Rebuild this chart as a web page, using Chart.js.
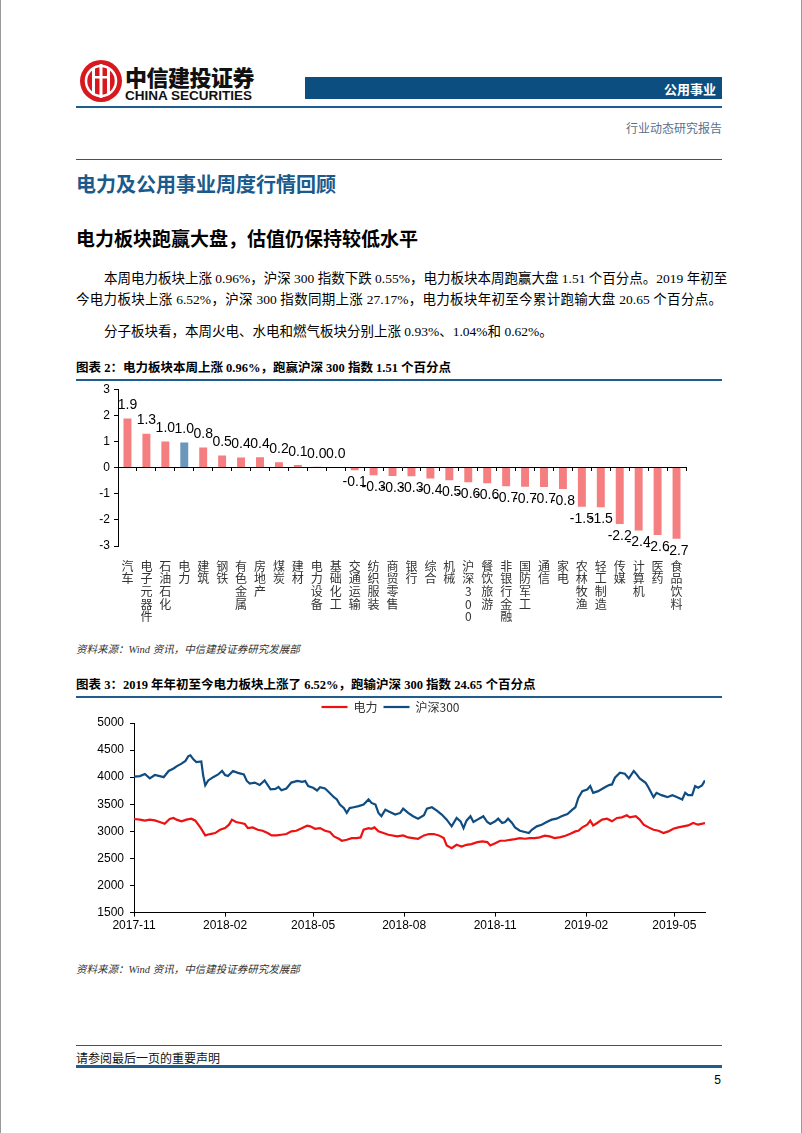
<!DOCTYPE html>
<html>
<head>
<meta charset="utf-8">
<script src="https://cdn.jsdelivr.net/npm/chart.js@4.4.1/dist/chart.umd.min.js"></script>
<style>
body { margin: 0; background: #fff; }
#page { position: relative; width: 802px; height: 1133px; overflow: hidden; background: #fff;
        font-family: "Liberation Serif", "Noto Sans CJK SC", serif; color: #000; }
.abs { position: absolute; }
.blue-bar { left: 305px; top: 77px; width: 417px; height: 22px; background: #0c4e80; }
.chart-title { left: 76px; width: 646px; font-family: "Liberation Serif", "Noto Sans CJK SC", serif;
               font-weight: bold; font-size: 12.5px; border-bottom: 2px solid #1f5c8f; padding-bottom: 3px; }
.source { left: 76px; font-style: italic; font-size: 10.5px; color: #333; }
.para { left: 76px; width: 646px; font-size: 13.5px; text-align: justify; text-align-last: justify; white-space: nowrap; }
</style>
</head>
<body>
<div id="page">
  <div class="abs" style="left:0;top:0;width:1px;height:1133px;background:#999"></div>
  <div class="abs" style="left:801px;top:0;width:1px;height:1133px;background:#999"></div>

  <!-- 页眉 -->
  <svg class="abs" style="left:79px;top:59px" width="44" height="44" viewBox="0 0 44 44">
    <circle cx="22" cy="22" r="21" fill="#d7191f"/>
    <circle cx="22" cy="22" r="15" fill="none" stroke="#fff" stroke-width="2.5"/>
    <rect x="13" y="9" width="3" height="26" fill="#fff"/>
    <rect x="20.5" y="5" width="3" height="34" fill="#fff"/>
    <rect x="28" y="9" width="3" height="26" fill="#fff"/>
    <rect x="13" y="17" width="18" height="2.5" fill="#fff"/>
  </svg>
  <div class="abs" style="left:125px;top:65px;line-height:1;font-family:'Noto Sans CJK SC';font-weight:900;font-size:22px;letter-spacing:-0.5px;color:#111">中信建投证券</div>
  <div class="abs" style="left:125px;top:89px;line-height:1;font-family:'Liberation Sans Narrow','Liberation Sans';font-weight:bold;font-size:13.5px;color:#111">CHINA SECURITIES</div>
  <div class="abs blue-bar"></div>
  <div class="abs" style="left:600px;top:79px;width:116px;text-align:right;font-family:'Noto Sans CJK SC';font-weight:bold;font-size:13px;color:#fff">公用事业</div>
  <div class="abs" style="left:76px;top:106px;width:646px;height:2px;background:#1f5c8f"></div>
  <div class="abs" style="left:560px;top:119px;width:162px;text-align:right;font-size:12px;color:#5b6f8c">行业动态研究报告</div>

  <div class="abs" style="left:76px;top:159px;width:646px;height:1px;background:#1f5c8f"></div>
  <div class="abs" style="left:76px;top:169px;font-family:'Noto Sans CJK SC';font-weight:bold;font-size:20px;color:#1a5a8c">电力及公用事业周度行情回顾</div>
  <div class="abs" style="left:76px;top:224px;font-family:'Noto Sans CJK SC';font-weight:bold;font-size:19px;color:#000">电力板块跑赢大盘，估值仍保持较低水平</div>

  <div class="abs para" style="top:267px;left:104px;width:618px">本周电力板块上涨 0.96%，沪深 300 指数下跌 0.55%，电力板块本周跑赢大盘 1.51 个百分点。2019 年初至</div>
  <div class="abs para" style="top:288px">今电力板块上涨 6.52%，沪深 300 指数同期上涨 27.17%，电力板块年初至今累计跑输大盘 20.65 个百分点。</div>
  <div class="abs para" style="top:320px;left:104px;width:auto;text-align-last:auto">分子板块看，本周火电、水电和燃气板块分别上涨 0.93%、1.04%和 0.62%。</div>

  <!-- 图表 2 -->
  <div class="abs chart-title" style="top:357px">图表 2：电力板块本周上涨 0.96%，跑赢沪深 300 指数 1.51 个百分点</div>
  <div class="abs" style="left:76px;top:378px;width:646px;height:252px"><canvas id="barChart"></canvas></div>
  <div class="abs source" style="top:641px">资料来源：Wind 资讯，中信建投证券研究发展部</div>

  <!-- 图表 3 -->
  <div class="abs chart-title" style="top:674px">图表 3：2019 年年初至今电力板块上涨了 6.52%，跑输沪深 300 指数 24.65 个百分点</div>
  <div class="abs" style="left:76px;top:695px;width:646px;height:240px"><canvas id="lineChart"></canvas></div>
  <div class="abs source" style="top:961px">资料来源：Wind 资讯，中信建投证券研究发展部</div>

  <!-- 页脚 -->
  <div class="abs" style="left:76px;top:1045px;width:646px;height:1px;background:#1f5c8f"></div>
  <div class="abs" style="left:76px;top:1049px;font-size:12px;color:#111">请参阅最后一页的重要声明</div>
  <div class="abs" style="left:76px;top:1065px;width:646px;height:3px;background:#1f5c8f"></div>
  <div class="abs" style="left:700px;top:1073px;width:21px;text-align:right;font-family:'Liberation Sans';font-size:12px">5</div>
</div>

<script>
// ---- 图表 2 数据：申万行业本周涨跌幅(%) ----
var sectors = ["汽车", "电子元器件", "石油石化", "电力", "建筑", "钢铁", "有色金属", "房地产", "煤炭", "建材",
               "电力设备", "基础化工", "交通运输", "纺织服装", "商贸零售", "银行", "综合", "机械", "沪深300", "餐饮旅游",
               "非银行金融", "国防军工", "通信", "家电", "农林牧渔", "轻工制造", "传媒", "计算机", "医药", "食品饮料"];
var weeklyChange = [1.88, 1.30, 1.00, 0.96, 0.77, 0.46, 0.39, 0.40, 0.20, 0.10,
                    0.03, 0.02, -0.10, -0.29, -0.32, -0.33, -0.42, -0.48, -0.56, -0.60,
                    -0.71, -0.73, -0.74, -0.82, -1.50, -1.52, -2.16, -2.41, -2.58, -2.72];
var highlightSector = "电力";
var barTicks = [-3, -2, -1, 0, 1, 2, 3];

// ---- 图表 3 数据：指数走势（横轴为自 2017-11-01 起的天数）----
var dateTickLabels = ["2017-11", "2018-02", "2018-05", "2018-08", "2018-11", "2019-02", "2019-05"];
var hs300Days = [0, 6, 11, 16, 21, 26, 30, 35, 40, 43, 48, 52, 55, 57, 60, 63, 68, 70, 72, 75,
                 80, 85, 89, 92, 95, 100, 105, 111, 114, 117, 122, 127, 132, 138, 143, 146, 149, 154, 159, 165,
                 170, 173, 176, 181, 185, 188, 193, 196, 202, 205, 208, 212, 215, 218, 222, 227, 232, 237, 240, 244,
                 247, 250, 254, 257,
                 264, 269, 272, 277, 282, 287, 293, 296, 301, 306, 311, 316, 321, 326, 330, 333, 336, 340, 343, 347,
                 350, 353, 357, 360, 365, 368, 372, 375, 378, 382, 385, 390, 395, 399, 402, 407, 412, 417, 422, 427,
                 432, 438, 443, 446, 449, 453, 458, 461, 464, 469, 475, 480, 483, 486, 491, 496, 500, 505, 508, 511,
                 517, 520, 525, 528, 533, 539, 544, 549, 554, 557, 560, 564, 567, 570, 574, 577];
var hs300Index = [4009, 4020, 4060, 3978, 4040, 4020, 4000, 4115, 4160, 4200, 4250, 4300, 4390, 4405, 4330, 4280, 4290, 4020, 3850, 3940,
                  4000, 4050, 4115, 4040, 4020, 4115, 4080, 4050, 3930, 3880, 3900, 3855, 3940, 3775, 3785, 3820, 3760, 3790, 3900, 3930,
                  3915, 3930, 3835, 3805, 3755, 3815, 3790, 3740, 3630, 3590, 3495, 3430, 3340, 3430, 3445, 3465, 3495, 3590, 3525, 3495,
                  3340, 3280, 3400, 3370,
                  3309, 3340, 3420, 3340, 3278, 3234, 3296, 3420, 3445, 3383, 3310, 3216, 3092, 3247, 3185, 3060, 3197, 3278, 3172, 3216,
                  3247, 3278, 3172, 3135, 3185, 3234, 3154, 3172, 3234, 3154, 3073, 3011, 2987, 2968, 3030, 3092, 3123, 3172, 3216, 3234,
                  3278, 3321, 3402, 3445, 3618, 3742, 3773, 3835, 3711, 3742, 3804, 3854, 3866, 3990, 4083, 4063, 3978, 4114, 4052, 3978,
                  3897, 3804, 3631, 3711, 3668, 3631, 3668, 3631, 3588, 3711, 3668, 3668, 3835, 3804, 3848, 3940];
var powerDays = [0, 6, 11, 16, 21, 26, 31, 36, 40, 43, 48, 53, 58, 62, 67, 72, 77, 82, 87, 92,
                 96, 99, 103, 108, 112, 115, 120, 125, 130, 135, 139, 144, 149, 154, 159, 164, 170, 175, 178, 183,
                 188, 193, 198, 202, 207, 210, 215, 220, 225, 229, 232, 237, 240, 243, 247, 252, 257,
                 266, 272, 277, 282, 287, 293, 298, 303, 308, 313, 316, 321, 326, 331, 336, 341, 347, 352, 357, 360,
                 365, 370, 375, 380, 385, 390, 395, 400, 405, 410, 415, 420, 425, 431, 436, 441, 446, 449, 453, 458,
                 461, 464, 468, 473, 478, 483, 488, 493, 498, 501, 507, 511, 515, 520, 525, 530, 535, 540, 545, 550,
                 555, 560, 565, 570, 577];
var powerIndex = [3228, 3216, 3197, 3216, 3203, 3172, 3141, 3228, 3247, 3216, 3185, 3216, 3234, 3197, 3073, 2925, 2950, 2968, 3030, 3060,
                  3123, 3216, 3172, 3154, 3135, 3060, 3073, 3030, 3011, 2968, 2925, 2925, 2937, 2950, 2999, 3011, 3060, 3104, 3092, 3048,
                  3060, 3011, 2987, 2906, 2863, 2826, 2844, 2875, 2875, 2888, 3030, 3060, 3048, 3073, 2999, 2968, 2937,
                  2906, 2925, 2888, 2875, 2863, 2925, 2950, 2950, 2925, 2875, 2739, 2689, 2751, 2720, 2751, 2764, 2801, 2813, 2801, 2739,
                  2782, 2826, 2826, 2844, 2857, 2875, 2863, 2875, 2875, 2888, 2919, 2906, 2875, 2894, 2919, 2956, 2999, 3011, 3073, 3123,
                  3197, 3110, 3154, 3216, 3234, 3185, 3247, 3259, 3296, 3259, 3278, 3216, 3123, 3073, 3030, 3011, 2968, 2999, 3048, 3073,
                  3092, 3110, 3154, 3123, 3154];
var indexMin = 1500, indexMax = 5000, indexStep = 500;

var axisFont = { family: '"Liberation Sans", Arial, sans-serif', size: 12 };
var cjkFont = { family: '"Noto Sans CJK SC", sans-serif', size: 12, lineHeight: 1.05 };

// 柱子上的数值标签
var barValueLabels = {
    id: 'barValueLabels',
    afterDatasetsDraw: function(chart) {
        var ctx = chart.ctx;
        var meta = chart.getDatasetMeta(0);
        ctx.save();
        ctx.font = '14px "Liberation Sans", Arial, sans-serif';
        ctx.fillStyle = '#000';
        ctx.textAlign = 'center';
        meta.data.forEach(function(bar, i) {
            var v = weeklyChange[i];
            if (v >= 0) {
                ctx.textBaseline = 'bottom';
                ctx.fillText(v.toFixed(1), bar.x, bar.y - 6);
            } else {
                ctx.textBaseline = 'top';
                ctx.fillText(v.toFixed(1), bar.x, bar.y + 5);
            }
        });
        ctx.restore();
    }
};

new Chart(document.getElementById('barChart'), {
    type: 'bar',
    data: {
        labels: sectors,
        datasets: [{
            data: weeklyChange,
            backgroundColor: sectors.map(function(s) { return s === highlightSector ? '#6b97bb' : '#f57f80'; }),
            barPercentage: 0.42,
            categoryPercentage: 1.0
        }]
    },
    options: {
        responsive: true,
        maintainAspectRatio: false,
        animation: false,
        layout: { padding: { top: 8, right: 36, left: 0, bottom: 0 } },
        plugins: { legend: { display: false }, tooltip: { enabled: false } },
        scales: {
            x: {
                type: 'category',
                position: { y: 0 },
                offset: true,
                grid: { offset: true, drawOnChartArea: false, drawTicks: true, tickLength: 3, color: '#000' },
                border: { color: '#000', width: 1 },
                ticks: { display: false }
            },
            x2: {
                type: 'category',
                position: 'bottom',
                offset: true,
                grid: { display: false },
                border: { display: false },
                ticks: {
                    autoSkip: false, maxRotation: 0, minRotation: 0, padding: 6,
                    color: '#333', font: cjkFont,
                    callback: function(value) { return this.getLabelForValue(value).split(''); }
                },
                afterFit: function(scale) { scale.height = 84; }
            },
            y: {
                min: barTicks[0],
                max: barTicks[barTicks.length - 1],
                afterBuildTicks: function(scale) {
                    scale.ticks = barTicks.map(function(v) { return { value: v }; });
                },
                ticks: { autoSkip: false, color: '#000', font: axisFont, padding: 4,
                         callback: function(value) { return String(value); } },
                grid: { drawOnChartArea: false, drawTicks: true, tickLength: 4, color: '#000' },
                border: { color: '#000', width: 1 },
                afterFit: function(scale) { scale.width = 42; }
            }
        }
    },
    plugins: [barValueLabels]
});

// 日期刻度 -> 距 2017-11-01 的天数
var baseDay = Date.UTC(2017, 10, 1);
function monthToDay(label) {
    var p = label.split('-');
    return Math.round((Date.UTC(+p[0], +p[1] - 1, 1) - baseDay) / 86400000);
}
var dateTickDays = dateTickLabels.map(monthToDay);

function toPoints(days, values) {
    return days.map(function(d, i) { return { x: d, y: values[i] }; });
}

new Chart(document.getElementById('lineChart'), {
    type: 'line',
    data: {
        datasets: [
            { label: '电力', data: toPoints(powerDays, powerIndex), borderColor: '#ee1111', backgroundColor: '#ee1111',
              borderWidth: 2.2, pointRadius: 0, tension: 0 },
            { label: '沪深300', data: toPoints(hs300Days, hs300Index), borderColor: '#0f4c81', backgroundColor: '#0f4c81',
              borderWidth: 2.2, pointRadius: 0, tension: 0 }
        ]
    },
    options: {
        responsive: true,
        maintainAspectRatio: false,
        animation: false,
        layout: { padding: { top: 0, right: 17, left: 0, bottom: 0 } },
        plugins: {
            tooltip: { enabled: false },
            legend: {
                position: 'top',
                labels: {
                    usePointStyle: true, pointStyle: 'line', pointStyleWidth: 26,
                    color: '#333', font: { family: '"Noto Sans CJK SC", "Liberation Sans", sans-serif', size: 12 },
                    padding: 6, boxHeight: 12
                }
            }
        },
        scales: {
            x: {
                type: 'linear',
                min: 0,
                max: powerDays[powerDays.length - 1],
                afterBuildTicks: function(scale) {
                    scale.ticks = dateTickDays.map(function(d) { return { value: d }; });
                },
                ticks: {
                    color: '#000', font: axisFont, maxRotation: 0, padding: 2,
                    callback: function(value) { return dateTickLabels[dateTickDays.indexOf(value)]; }
                },
                grid: { drawOnChartArea: false, drawTicks: true, tickLength: 4, color: '#000' },
                border: { color: '#000', width: 1 }
            },
            y: {
                min: indexMin,
                max: indexMax,
                ticks: { stepSize: indexStep, color: '#000', font: axisFont, padding: 6,
                         callback: function(value) { return String(value); } },
                grid: { drawOnChartArea: false, drawTicks: true, tickLength: 4, color: '#000' },
                border: { color: '#000', width: 1 },
                afterFit: function(scale) { scale.width = 58; }
            }
        }
    }
});
</script>
</body>
</html>
